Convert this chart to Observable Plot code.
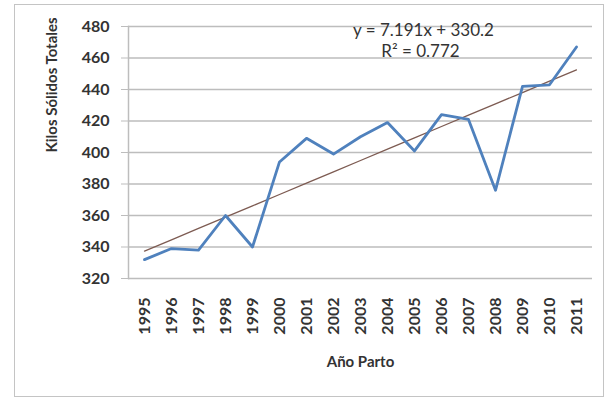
<!DOCTYPE html>
<html>
<head>
<meta charset="utf-8">
<script src="https://cdn.jsdelivr.net/npm/d3@7"></script>
<script src="https://cdn.jsdelivr.net/npm/@observablehq/plot@0.6"></script>
<style>
  html, body { margin: 0; padding: 0; background: #fff; }
  #wrap { position: relative; width: 614px; height: 398px; }
  #border {
    position: absolute; left: 14px; top: 4px; width: 588px; height: 391px;
    border: 1.5px solid #c4c4c4; pointer-events: none;
  }
  svg { font-family: Lato, "Open Sans", sans-serif; }
</style>
</head>
<body>
<div id="wrap"><div id="border"></div></div>
<script>
// Milk solids per cow by calving year
const years = ["1995","1996","1997","1998","1999","2000","2001","2002","2003",
               "2004","2005","2006","2007","2008","2009","2010","2011"];
const kilos = [332, 339, 338, 360, 340, 394, 409, 399, 410,
               419, 401, 424, 421, 376, 442, 443, 467];
const yTicks = [320, 340, 360, 380, 400, 420, 440, 460, 480];

// Linear trend reported on the chart (x = 1 for the first year)
const slope = 7.191;
const intercept = 330.2;
const r2 = 0.772;

const yTitle = "Kilos Sólidos Totales";
const xTitle = "Año Parto";

const series = years.map((year, i) => ({year, kilos: kilos[i]}));
const trend = years.map((year, i) => ({year, kilos: intercept + slope * (i + 1)}));

const grid = "#bdbdbd";
const ink = "#333";

const chart = Plot.plot({
  width: 614,
  height: 398,
  marginLeft: 128,
  marginRight: 22,
  marginTop: 26,
  marginBottom: 120,
  style: {fontFamily: "Lato, 'Open Sans', sans-serif", color: ink, background: "transparent"},
  x: {type: "point", domain: years, padding: 0.5},
  y: {domain: [320, 480]},
  marks: [
    Plot.ruleY(yTicks, {stroke: grid, strokeWidth: 1.5}),
    Plot.frame({anchor: "left", stroke: grid, strokeWidth: 1.5}),
    Plot.axisY({
      ticks: yTicks, tickSize: 7, tickPadding: 12, stroke: grid,
      fontSize: 16, fontWeight: "bold", label: null
    }),
    Plot.axisX({
      tickSize: 0, tickPadding: 19, tickRotate: -90,
      fontSize: 16, fontWeight: "bold", label: null
    }),
    Plot.text([yTitle], {
      frameAnchor: "left", rotate: -90, dx: -76,
      fontSize: 15, fontWeight: "bold", fill: ink
    }),
    Plot.text([xTitle], {
      frameAnchor: "bottom", dy: 88,
      fontSize: 15, fontWeight: "bold", fill: ink
    }),
    Plot.line(trend, {x: "year", y: "kilos", stroke: "#7d5b52", strokeWidth: 1.3}),
    Plot.line(series, {x: "year", y: "kilos", stroke: "#4f81bd", strokeWidth: 2.8}),
    Plot.text([`y = ${slope}x + ${intercept}`], {
      frameAnchor: "top", dx: 63, dy: -3, fontSize: 17, fill: ink
    }),
    Plot.text([`R² = ${r2}`], {
      frameAnchor: "top", dx: 60, dy: 18, fontSize: 17, fill: ink
    })
  ]
});

document.getElementById("wrap").prepend(chart);
</script>
</body>
</html>
